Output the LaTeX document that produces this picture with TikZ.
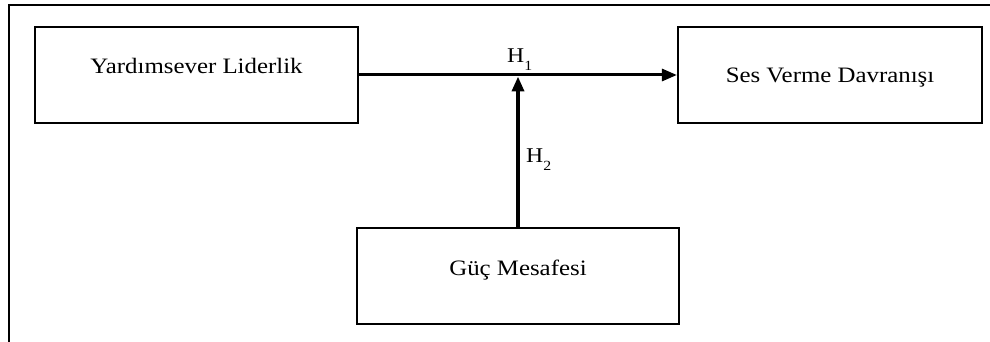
\documentclass[tikz,border=0pt]{standalone}
\usepackage{fontspec}
\setmainfont[FakeStretch=1.13]{Liberation Serif}
\usetikzlibrary{arrows.meta}
\tikzset{
  box/.style={draw, line width=2.2pt, minimum height=96pt, inner sep=0pt},
  lbl/.style={anchor=base, inner sep=0pt, font=\fontsize{22}{25}\selectfont},
  hyp/.style={anchor=base west, inner sep=0pt, font=\fontsize{21}{24}\selectfont},
  link/.style={line width=3pt, -{Triangle[length=15pt,width=12pt]}},
  frame/.style={line width=2pt}
}
\newcommand{\hsub}[1]{\raisebox{-8pt}{\fontsize{14}{14}\selectfont #1}}
\begin{document}
\begin{tikzpicture}[x=1pt,y=-1pt]
\useasboundingbox (0,0) rectangle (990,342);
% outer frame (top and left edges)
\coordinate (fa) at (990,5);
\coordinate (fb) at (8.5,5);
\coordinate (fc) at (8.5,342);
\draw[frame] (fa) -- (fb) -- (fc);
% boxes
\node[box, minimum width=323pt] (b1) at (196.5,75) {};
\node[box, minimum width=304pt] (b2) at (830,75) {};
\node[box, minimum width=322pt] (b3) at (518,276) {};
% box texts
\node[lbl] (t1) at (196.5,74) {Yardımsever Liderlik};
\node[lbl] (t2) at (830,83) {Ses Verme Davranışı};
\node[lbl] (t3) at (518,275) {Güç Mesafesi};
% connectors
\draw[link] (b1.east) -- (b2.west);
\coordinate (j) at (518,76.5);
\draw[link, line width=3.6pt] (b3.north) -- (j);
% hypothesis labels
\node[hyp] (h1) at (507,63) {H\hsub{1}};
\node[hyp] (h2) at (526,162) {H\hsub{2}};
\end{tikzpicture}
\end{document}
